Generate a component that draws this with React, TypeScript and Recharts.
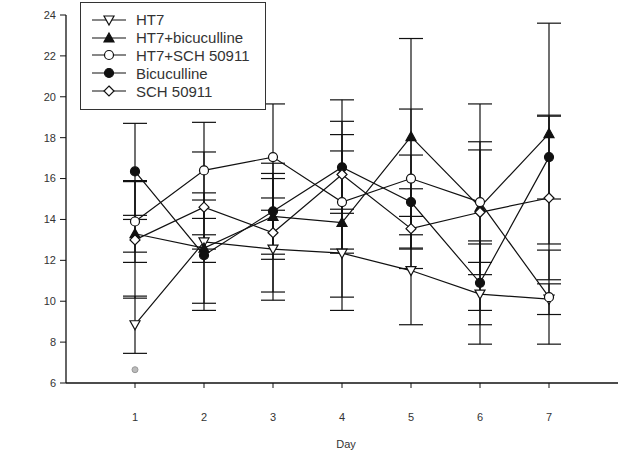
import React from "react";
import {
  LineChart,
  Line,
  XAxis,
  YAxis,
  ErrorBar,
  ReferenceDot,
} from "recharts";

const days = [1, 2, 3, 4, 5, 6, 7];
const yTicks = [6, 8, 10, 12, 14, 16, 18, 20, 22, 24];

const ht7 = [8.85, 12.9, 12.55, 12.35, 11.5, 10.35, 10.1];
const ht7Err = [1.4, 0.35, 2.5, 2.15, 2.65, 2.45, 0.75];
const ht7Bic = [13.3, 12.6, 14.15, 13.85, 18.05, 14.6, 18.2];
const ht7BicErr = [0.9, 2.7, 1.85, 4.3, 4.8, 5.05, 5.4];
const ht7Sch = [13.9, 16.4, 17.05, 14.85, 16.0, 14.85, 10.2];
const ht7SchErr = [2.0, 2.35, 2.6, 2.5, 3.4, 2.95, 2.3];
const bic = [16.35, 12.25, 14.4, 16.55, 14.85, 10.9, 17.05];
const bicErr = [2.35, 2.7, 2.35, 2.25, 2.3, 2.05, 2.05];
const sch = [13.0, 14.6, 13.35, 16.2, 13.55, 14.35, 15.05];
const schErr = [2.85, 2.7, 2.9, 3.65, 1.95, 3.05, 4.0];

const FONT = "'Liberation Sans', Arial, sans-serif";
const INK = "#111";

type Kind = "triDown" | "triUp" | "circleOpen" | "circleFill" | "diamond";

const series: { key: string; name: string; kind: Kind; values: number[]; errs: number[] }[] = [
  { key: "ht7", name: "HT7", kind: "triDown", values: ht7, errs: ht7Err },
  { key: "ht7Bic", name: "HT7+bicuculline", kind: "triUp", values: ht7Bic, errs: ht7BicErr },
  { key: "ht7Sch", name: "HT7+SCH 50911", kind: "circleOpen", values: ht7Sch, errs: ht7SchErr },
  { key: "bic", name: "Bicuculline", kind: "circleFill", values: bic, errs: bicErr },
  { key: "sch", name: "SCH 50911", kind: "diamond", values: sch, errs: schErr },
];

const data = days.map((day, i) => {
  const row: Record<string, number> = { day };
  series.forEach((s) => {
    row[s.key] = s.values[i];
    row[s.key + "Err"] = s.errs[i];
  });
  return row;
});

function Marker({ kind, cx, cy }: { kind: Kind; cx: number; cy: number }) {
  const st = { stroke: INK, strokeWidth: 1.2 };
  switch (kind) {
    case "triDown":
      return <polygon points={`${cx - 5},${cy - 4} ${cx + 5},${cy - 4} ${cx},${cy + 5}`} fill="#fff" {...st} />;
    case "triUp":
      return <polygon points={`${cx},${cy - 5} ${cx + 5},${cy + 4} ${cx - 5},${cy + 4}`} fill={INK} {...st} />;
    case "circleOpen":
      return <circle cx={cx} cy={cy} r={4.5} fill="#fff" {...st} />;
    case "circleFill":
      return <circle cx={cx} cy={cy} r={4.5} fill={INK} {...st} />;
    default:
      return <polygon points={`${cx},${cy - 5} ${cx + 5},${cy} ${cx},${cy + 5} ${cx - 5},${cy}`} fill="#fff" {...st} />;
  }
}

function LegendBox() {
  return (
    <div
      style={{
        position: "absolute",
        left: 80,
        top: 2,
        width: 186,
        height: 108,
        boxSizing: "border-box",
        border: "1px solid #333",
        background: "#fff",
        padding: "8px 0 0 11px",
        fontFamily: FONT,
        fontSize: 15,
        color: "#333",
      }}
    >
      {series.map((s) => (
        <div key={s.key} style={{ display: "flex", alignItems: "center", height: 17.8 }}>
          <svg width={34} height={14} style={{ marginRight: 10 }}>
            <line x1={0} y1={7} x2={34} y2={7} stroke={INK} strokeWidth={1.2} />
            <Marker kind={s.kind} cx={17} cy={7} />
          </svg>
          <span>{s.name}</span>
        </div>
      ))}
    </div>
  );
}

export default function App() {
  return (
    <div style={{ position: "absolute", left: 0, top: 0, width: 623, height: 451, background: "#fff" }}>
      <LineChart
        width={623}
        height={451}
        data={data}
        margin={{ top: 15, right: 5, bottom: 0, left: 26 }}
        style={{ fontFamily: FONT }}
      >
        <XAxis
          type="number"
          dataKey="day"
          domain={[0, 8]}
          ticks={days}
          height={68}
          tickSize={5}
          tickMargin={25}
          axisLine={{ stroke: INK, strokeWidth: 1.3 }}
          tickLine={{ stroke: INK }}
          tick={{ fontSize: 11, fill: "#333" }}
          label={{ value: "Day", position: "insideBottom", offset: 3, dx: 4, fontSize: 11, fill: "#333" }}
        />
        <YAxis
          type="number"
          domain={[6, 24]}
          ticks={yTicks}
          width={40}
          tickSize={6}
          tickMargin={4}
          axisLine={{ stroke: INK, strokeWidth: 1.3 }}
          tickLine={{ stroke: INK }}
          tick={{ fontSize: 11, fill: "#333" }}
        />
        {series.map((s) => (
          <Line
            key={s.key}
            dataKey={s.key}
            name={s.name}
            type="linear"
            stroke={INK}
            strokeWidth={1.2}
            isAnimationActive={false}
            dot={(p: any) => <Marker key={`${s.key}-${p.index}`} kind={s.kind} cx={p.cx} cy={p.cy} />}
            activeDot={false}
          >
            <ErrorBar dataKey={s.key + "Err"} direction="y" width={12} stroke={INK} strokeWidth={1.2} />
          </Line>
        ))}
        <ReferenceDot x={1} y={6.65} r={3} fill="#bbb" stroke="#999" />
      </LineChart>
      <LegendBox />
    </div>
  );
}
